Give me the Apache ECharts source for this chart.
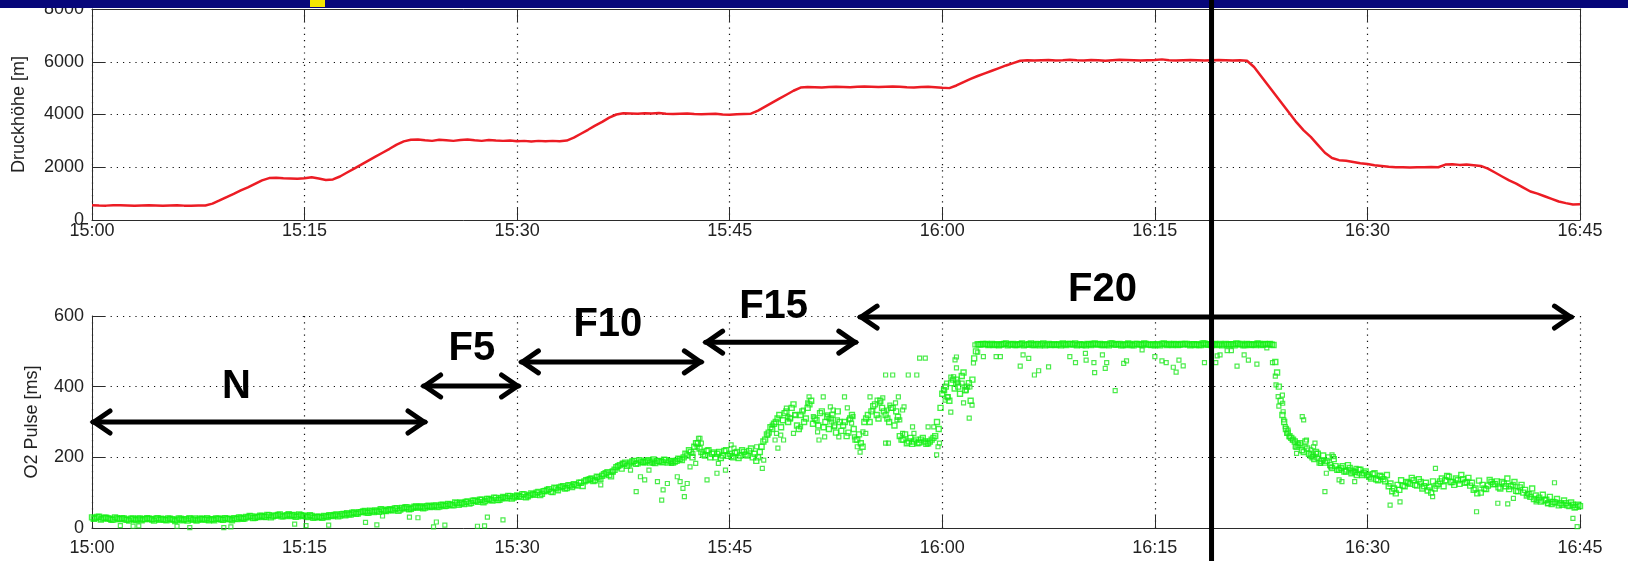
<!DOCTYPE html>
<html>
<head>
<meta charset="utf-8">
<script src="https://cdn.jsdelivr.net/npm/echarts@6/dist/echarts.min.js"></script>
<style>
html,body{margin:0;padding:0;background:#fff;}
#chart{width:1628px;height:561px;}
</style>
</head>
<body>
<div id="chart"></div>
<script>
// x axis: minutes after 15:00
var timeLabels = ['15:00','15:15','15:30','15:45','16:00','16:15','16:30','16:45'];

// Druckhöhe [m], one value every 0.5 min
var hoeheStep = 0.5;
var hoehe = [560,550,545,555,560,550,540,550,555,550,545,550,555,545,540,550,550,
	620,740,870,990,1120,1240,1370,1500,1590,
	1600,1580,1570,1560,1580,1620,1570,1520,1540,
	1650,1800,1950,2100,2250,2400,2550,2700,2860,2980,3040,
	3050,3020,3000,3040,3020,3000,3030,3050,3020,3000,3030,3010,3000,3010,2990,3000,2980,3000,2990,3000,2990,3010,
	3120,3270,3420,3580,3720,3880,4000,
	4050,4040,4030,4050,4040,4060,4030,4020,4030,4040,4020,4010,4020,4030,4000,3990,4010,4020,4030,
	4150,4300,4450,4600,4750,4900,5020,
	5040,5030,5020,5040,5050,5040,5030,5050,5060,5050,5040,5050,5060,5050,5030,5020,5040,5050,5030,5010,5000,
	5100,5230,5350,5460,5560,5660,5760,5860,5950,6040,
	6060,6050,6060,6070,6050,6060,6080,6060,6050,6070,6060,6040,6060,6080,6070,6060,6050,6060,6070,6090,6060,6050,6060,6070,6060,6050,6060,6070,6060,6050,6060,6040,
	5800,5450,5100,4750,4400,4050,3700,3400,3150,2850,2550,2350,2270,
	2250,2200,2150,2120,2080,2050,2020,2000,2000,1990,2000,2000,2010,2000,
	2100,2110,2090,2100,2080,2050,1950,
	1800,1650,1500,1380,1230,1080,1000,900,800,700,640,590,600];

// O2 Pulse [ms], main band, one value every 0.25 min from 15:00
var pulseStep = 0.25;
var pulse = [30,28,32,27, 29,26,24,28, 25,27,23,26, 24,26,22,25, 27,24,26,23,
	25,22,26,24, 23,26,24,21, 25,27,23,26, 24,22,25,27, 26,23,27,25,
	28,25,29,27, 30,33,29,31, 34,31,36,33, 35,38,33,36, 34,37,33,36,
	35,31,34,30, 32,29,33,36, 34,38,35,40, 42,38,44,41, 45,48,43,47,
	50,46,52,48, 53,50,56,52, 55,58,54,60, 57,61,58,63, 60,64,61,66,
	63,67,64,70, 72,68,75,71, 78,74,80,76, 82,78,85,80, 88,84,90,86,
	92,88,95,90, 98,94,102,97, 105,110,102,112, 115,118,113,120, 124,120,128,132,
	136,140,135,143, 148,155,150,160, 172,178,182,176, 185,190,183,188, 186,192,188,184,
	190,186,192,188, 185,190,195,200, 205,215,230,240, 215,205,220,210, 200,215,205,220,
	210,200,215,205, 215,205,225,210, 200,230,250,270, 280,300,320,305, 330,310,350,290,
	320,300,340,360, 310,290,330,300, 280,320,270,300, 290,260,310,280, 250,240,300,320,
	330,350,310,340, 320,300,340,330, 260,250,240,255, 245,240,250,245, 240,250,260,280,
	380,400,360,420, 420,380,440,400, 360,480,520,520,
	520,518,521,519, 517,520,522,519, 521,518,520,517, 519,522,518,520, 520,517,521,519,
	518,520,522,518, 521,519,517,520, 519,521,518,522, 520,518,520,517, 522,519,521,518,
	518,520,517,521, 520,522,519,518, 517,519,521,520, 521,518,520,519, 519,521,517,520,
	520,518,522,519, 518,521,519,517, 521,519,520,522, 519,517,521,518, 520,522,518,521,
	520,519,470,400, 320,280,260,250, 230,240,215,225, 205,195,210,190, 185,200,170,175,
	165,175,160,170, 160,150,165,155, 150,140,155,135, 145,132,118,104, 98,108,120,130,
	125,135,120,130, 118,106,100,112, 125,140,135,145, 130,140,125,138, 130,120,108,98,
	100,112,120,130, 125,115,130,118, 110,122,105,115, 100,92,88,82, 80,75,78,70,
	68,72,64,66, 70,62,66,60, 62];

// O2 Pulse [ms], second sample of the band, one value every 0.25 min from 15:00:07.5
var pulse2Start = 0.125;
var pulse2 = [26,31,24,29, 27,23,30,25, 28,24,21,27, 22,27,25,28, 25,21,28,26,
	23,27,24,20, 27,22,25,28, 23,21,26,24, 28,25,22,26, 24,28,25,22,
	26,30,26,31, 34,28,32,35, 32,37,30,35, 37,33,35,39, 36,32,38,34,
	33,36,29,32, 30,34,31,35, 37,33,39,36, 39,43,40,45, 47,44,49,45,
	48,53,49,51, 51,55,49,57, 59,53,57,61, 60,56,62,59, 63,59,65,62,
	68,65,72,66, 70,74,69,77, 76,80,73,82, 80,86,79,84, 86,91,83,89,
	90,96,87,93, 96,100,93,104, 108,103,114,107, 117,112,121,116, 122,128,119,135,
	138,133,145,139, 152,158,146,165, 175,168,185,180, 188,182,192,186, 190,185,194,189,
	188,193,185,190, 188,196,192,210, 220,200,240,225, 208,218,200,214, 210,198,218,204,
	203,212,198,220, 208,218,200,190, 215,245,265,285, 295,310,285,325, 300,340,320,280,
	330,310,350,295, 305,325,285,315, 310,290,330,275, 300,270,320,250, 265,230,310,300,
	345,320,360,330, 310,340,290,315, 250,265,245,238, 250,242,255,238, 245,255,300,340,
	390,370,410,395, 400,430,390,410, 420,500,519,521,
	521,519,518,520, 519,521,517,520, 518,520,522,519, 520,518,521,517, 522,519,518,520,
	519,517,520,521, 520,522,519,518, 517,520,521,519, 521,518,519,522, 519,520,517,520,
	522,518,521,519, 518,521,519,520, 520,517,522,518, 519,521,518,521, 521,519,520,518,
	518,522,519,520, 520,518,521,519, 519,520,517,521, 521,518,520,519, 518,521,519,520,
	521,518,440,360, 300,270,255,245, 235,220,245,210, 200,215,185,205, 190,178,195,165,
	170,160,178,155, 158,165,150,160, 145,152,138,148, 138,150,126,112, 122,135,118,128,
	142,122,138,112, 128,116,132,120, 132,118,147,130, 122,135,150,128, 142,128,112,134,
	122,110,136,124, 132,112,126,140, 118,130,104,122, 108,96,112,92, 86,94,80,88,
	74,82,70,78, 64,72,58,66];

// O2 Pulse [ms], scattered points off the band: [minute, value]
var pulseOutliers = [[2.0,7],[2.9,5],[3.3,6],[6.0,5],[6.9,1],[9.3,1],[9.8,3],[14.3,11],[15.1,7],[16.7,8],[19.3,16],[20.1,9],[20.5,34],
	[22.4,31],[23.0,29],[24.1,3],[24.3,17],[24.9,8],[27.2,5],[27.7,6],[27.9,31],[29.0,23],
	[35.9,122],[36.7,159],[37.4,183],[38.0,164],[38.4,103],[38.7,145],[39.0,136],[39.3,164],[39.6,183],[39.9,131],[40.2,79],[40.3,108],
	[40.6,126],[40.9,183],[41.3,145],[41.5,131],[41.7,112],[41.8,89],[42.0,126],[42.2,173],[42.4,211],[42.7,230],[42.9,254],[43.0,240],
	[42.8,254],[42.6,183],[43.4,136],[44.1,155],[44.2,183],[44.7,164],[45.1,235],[45.3,226],[46.9,230],[47.3,169],[47.4,192],
	[47.7,263],[48.0,291],[48.3,268],[48.6,263],[48.4,226],[48.2,249],[48.8,249],[49.0,339],[49.1,315],[49.3,311],[49.6,320],[49.5,268],
	[50.0,286],[50.2,334],[50.5,354],[50.6,371],[50.9,315],[51.2,272],[51.3,249],[51.6,371],[51.7,258],[52.1,343],[52.3,334],[52.6,306],
	[51.9,320],[52.0,311],[52.2,300],[52.4,286],[52.7,258],[53.1,371],[53.3,340],[53.4,306],[53.6,297],[53.7,315],[53.8,258],[54.0,230],
	[54.2,215],[54.4,272],[54.6,268],[54.9,371],[55.1,334],[55.4,362],[55.6,354],[55.8,368],[56.1,334],[56.3,348],[56.5,433],[56.7,354],
	[56.9,371],[57.0,306],[57.2,334],[57.3,343],[56.0,240],[56.2,240],[56.8,306],[57.2,268],[57.9,286],[58.0,268],[58.4,481],[58.8,481],
	[59.0,286],[59.4,286],[59.6,207],[59.7,230],[59.8,240],[56.0,433],[57.6,433],[58.2,433],
	[60.1,390],[60.2,362],[60.3,410],[60.4,371],[60.6,328],[60.8,428],[60.9,476],[61.0,453],[61.05,410],[61.1,413],[61.4,410],[61.5,354],
	[61.6,399],[61.7,390],[61.9,311],[62.1,348],[62.3,518],[62.2,467],[62.5,498],[61.95,399],[61.0,484],[60.6,427],
	[62.9,485],[63.8,485],[64.1,485],[65.5,458],[65.7,490],[66.1,480],[66.5,433],[66.8,445],[67.5,456],[69.0,485],[69.4,468],[70.1,494],
	[70.15,475],[70.7,468],[70.75,440],[71.3,490],[71.5,452],[71.6,468],[72.2,389],[72.8,466],[73.0,473],[74.1,504],[75.0,485],[75.5,473],
	[75.8,468],[76.3,455],[76.5,441],[76.7,475],[77.0,459],[78.5,468],[79.3,468],[79.4,487],[79.6,490],[80.1,502],[80.4,502],[80.8,458],
	[81.3,490],[81.6,475],[82.2,464],[82.9,510],[83.3,468],[83.5,430],[83.55,405],[83.7,372],[83.75,345],
	[84.0,376],[84.02,353],[84.05,329],[84.1,306],[84.2,287],[84.3,268],[84.4,277],[84.5,258],[84.7,249],[84.9,230],[85.0,211],[85.1,240],
	[85.4,315],[85.5,306],[85.6,230],[85.7,249],[86.0,221],[86.1,202],[86.2,230],[86.3,240],[86.4,211],[86.5,197],[86.7,183],[86.9,192],
	[87.0,103],[87.1,155],[87.4,173],[87.5,207],[87.6,202],[88.0,136],[88.2,131],[88.5,164],[88.9,164],[89.2,169],[89.4,155],[89.1,131],
	[91.6,65],[92.3,74],[94.8,169],[94.6,89],[97.7,46],[99.2,70],[99.9,68],[100.3,84],[101.3,98],[101.9,74],[102.7,70],[103.2,128],
	[104.5,27],[104.8,4]];

// Stufen (Phasen) im unteren Diagramm, Pfeile in Minuten / ms
var phaseNames = ['N', 'F5', 'F10', 'F15', 'F20'];
var phaseFrom = [0.07, 23.4, 30.3, 43.3, 54.2];
var phaseTo = [23.5, 30.1, 43.0, 53.9, 104.4];
var phaseArrowAt = [300, 402, 470, 526, 597];
var phaseLabelT = [10.2, 26.8, 36.4, 48.1, 71.3];
var phaseLabelAt = [399, 506, 575, 626, 674];
// senkrechte Markierung
var markerMinute = 79;

var font = "'Liberation Sans', Arial, sans-serif";
var axisCol = '#2b2b2b';

function timeLabel(v) {
	return timeLabels[Math.round(v / 15)] || '';
}
function plainLabel(v) {
	return String(v);
}

var dots = {show: true, lineStyle: {color: '#111', width: 1.2, type: [1.2, 5]}};
var line = {show: true, onZero: false, lineStyle: {color: axisCol, width: 1}};
var tick = {show: true, inside: true, length: 13, lineStyle: {color: axisCol}};

function xAxisCfg(grid, labelMargin) {
	return {
		gridIndex: grid, type: 'value', min: 0, max: 105, interval: 15,
		axisLine: line, axisTick: tick, splitLine: dots,
		axisLabel: {margin: labelMargin, fontSize: 18, fontFamily: font, color: '#222', formatter: timeLabel}
	};
}

var hoeheData = [];
for (var i = 0; i < hoehe.length; i++) hoeheData.push([i * hoeheStep, hoehe[i]]);
var pulseData = [];
for (var j = 0; j < pulse.length; j++) pulseData.push([j * pulseStep, pulse[j]]);
for (var j2 = 0; j2 < pulse2.length; j2++) pulseData.push([pulse2Start + j2 * pulseStep, pulse2[j2]]);

var myChart = echarts.init(document.getElementById('chart'));

option = {
	animation: false,
	grid: [
		{left: 92, right: 48, top: 6, height: 214},
		{left: 92, right: 48, top: 316, height: 212}
	],
	xAxis: [
		xAxisCfg(0, 2),
		{gridIndex: 0, type: 'value', position: 'top', min: 0, max: 105, interval: 15,
			axisLine: line, axisTick: tick, axisLabel: {show: false}, splitLine: {show: false}},
		xAxisCfg(1, 11)
	],
	yAxis: [
		{gridIndex: 0, type: 'value', min: 0, max: 8000, interval: 2000,
			axisLine: line, axisTick: tick, splitLine: dots,
			axisLabel: {margin: 8, fontSize: 18, fontFamily: font, color: '#222', formatter: plainLabel},
			name: 'Druckhöhe [m]', nameLocation: 'middle', nameGap: 64,
			nameTextStyle: {fontSize: 18, fontFamily: font, color: '#222'}},
		{gridIndex: 0, type: 'value', position: 'right', min: 0, max: 8000, interval: 2000,
			axisLine: line, axisTick: tick, axisLabel: {show: false}, splitLine: {show: false}},
		{gridIndex: 1, type: 'value', min: 0, max: 600, interval: 200,
			axisLine: line, axisTick: tick, splitLine: dots,
			axisLabel: {margin: 8, fontSize: 18, fontFamily: font, color: '#222', formatter: plainLabel},
			name: 'O2 Pulse [ms]', nameLocation: 'middle', nameGap: 51,
			nameTextStyle: {fontSize: 18, fontFamily: font, color: '#222'}}
	],
	series: [
		{
			name: 'Druckhöhe', type: 'line', xAxisIndex: 0, yAxisIndex: 0,
			data: hoeheData, showSymbol: false, silent: true,
			lineStyle: {color: '#ec1c24', width: 2.5}
		},
		{
			name: 'O2 Pulse', type: 'scatter', xAxisIndex: 2, yAxisIndex: 2,
			data: pulseData, symbol: 'rect', symbolSize: 5, silent: true,
			itemStyle: {color: 'rgba(0,0,0,0)', borderColor: '#14f014', borderWidth: 1.4}
		},
		{
			name: 'O2 Pulse einzeln', type: 'scatter', xAxisIndex: 2, yAxisIndex: 2,
			data: pulseOutliers, symbol: 'rect', symbolSize: 4, silent: true,
			itemStyle: {color: 'rgba(0,0,0,0)', borderColor: '#1ee61e', borderWidth: 1.2}
		}
	]
};
myChart.setOption(option);

// Rahmen oben, Pfeile, Beschriftung
var g = [];
g.push({type: 'rect', z: 100, shape: {x: 0, y: 0, width: 1628, height: 8}, style: {fill: '#07077a'}});
g.push({type: 'rect', z: 101, shape: {x: 310, y: 0, width: 15, height: 7}, style: {fill: '#f4e600'}});

var mx = myChart.convertToPixel({xAxisIndex: 2}, markerMinute);
g.push({type: 'line', z: 102, shape: {x1: mx, y1: 0, x2: mx, y2: 561}, style: {stroke: '#000', lineWidth: 5}});

var arrowStyle = {stroke: '#000', fill: null, lineWidth: 5, lineJoin: 'miter', lineCap: 'round'};
for (var k = 0; k < phaseNames.length; k++) {
	var p1 = myChart.convertToPixel({gridIndex: 1}, [phaseFrom[k], phaseArrowAt[k]]);
	var p2 = myChart.convertToPixel({gridIndex: 1}, [phaseTo[k], phaseArrowAt[k]]);
	g.push({type: 'line', z: 102, shape: {x1: p1[0], y1: p1[1], x2: p2[0], y2: p2[1]}, style: arrowStyle});
	g.push({type: 'polyline', z: 102, shape: {points: [[p1[0] + 17, p1[1] - 11], [p1[0] + 1, p1[1]], [p1[0] + 17, p1[1] + 11]]}, style: arrowStyle});
	g.push({type: 'polyline', z: 102, shape: {points: [[p2[0] - 17, p2[1] - 11], [p2[0] - 1, p2[1]], [p2[0] - 17, p2[1] + 11]]}, style: arrowStyle});
	var pl = myChart.convertToPixel({gridIndex: 1}, [phaseLabelT[k], phaseLabelAt[k]]);
	g.push({type: 'text', z: 102, x: pl[0], y: pl[1], style: {text: phaseNames[k], font: "bold 40px 'Liberation Sans', Arial, sans-serif", fill: '#000', align: 'center', verticalAlign: 'middle'}});
}
myChart.setOption({graphic: g});
</script>
</body>
</html>
